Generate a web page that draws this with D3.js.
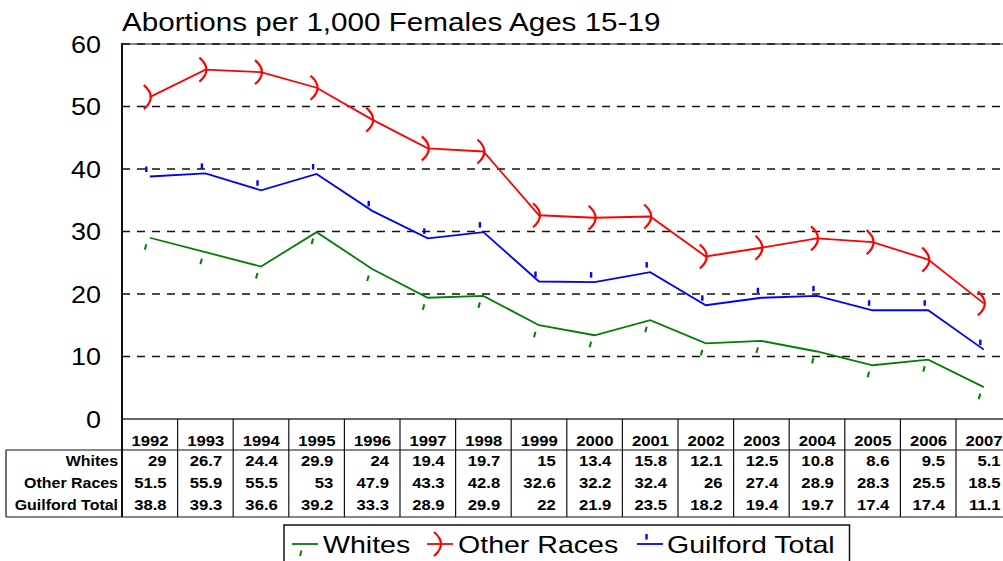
<!DOCTYPE html>
<html lang="en">
<head>
<meta charset="utf-8">
<script src="https://d3js.org/d3.v7.min.js"></script>
<style>
  body { margin: 0; background: #fff; }
  svg { display: block; font-family: Arial, "Liberation Sans", sans-serif; }
</style>
</head>
<body>
<svg></svg>
<script>
    // data
    const years = ["1992", "1993", "1994", "1995", "1996", "1997", "1998", "1999",
        "2000", "2001", "2002", "2003", "2004", "2005", "2006", "2007"];
    const whites = [29, 26.7, 24.4, 29.9, 24, 19.4, 19.7, 15, 13.4, 15.8, 12.1, 12.5, 10.8, 8.6, 9.5, 5.1];
    const otherRaces = [51.5, 55.9, 55.5, 53, 47.9, 43.3, 42.8, 32.6, 32.2, 32.4, 26, 27.4, 28.9, 28.3, 25.5, 18.5];
    const guilfordTotal = [38.8, 39.3, 36.6, 39.2, 33.3, 28.9, 29.9, 22, 21.9, 23.5, 18.2, 19.4, 19.7, 17.4, 17.4, 11.1];
    const yTicks = [0, 10, 20, 30, 40, 50, 60];
    const seriesNames = ["Whites", "Other Races", "Guilford Total"];

    const width = 1003, height = 561;
    const plotLeft = 122, plotTop = 44, plotBottom = 419, plotRight = 122 + 16 * 55.6;
    const tableTop = 419, headBottom = 450, tableBottom = 517;

    const series = [
        { name: seriesNames[0], values: whites, color: "#008000", marker: "tick" },
        { name: seriesNames[1], values: otherRaces, color: "#ff0000", marker: "arc" },
        { name: seriesNames[2], values: guilfordTotal, color: "#0000ff", marker: "dash" }
    ];

    let svg = d3.select("svg")
        .attr("width", width)
        .attr("height", height);

    svg.append("rect").attr("width", width).attr("height", height).attr("fill", "#fff");

    let x = d3.scaleBand().domain(years).range([plotLeft, plotRight]);
    let y = d3.scaleLinear().domain([0, 60]).range([plotBottom, plotTop]);
    const cx = (d) => x(d) + x.bandwidth() / 2;

    // text that is a little wider than the font (the original was stretched)
    function stretchText(g, tx, ty, str, size, sx, anchor, weight) {
        g.append("text")
            .attr("transform", `translate(${tx},${ty}) scale(${sx},1)`)
            .attr("text-anchor", anchor || "start")
            .style("font-size", size + "px")
            .style("font-weight", weight || "normal")
            .attr("fill", "#000")
            .text(str);
    }

    // title
    stretchText(svg, 122, 31, "Abortions per 1,000 Females Ages 15-19", 26, 1.14, "start");

    // plot border + gridlines
    svg.append("line")
        .attr("x1", plotLeft).attr("x2", plotRight)
        .attr("y1", plotTop).attr("y2", plotTop)
        .attr("stroke", "#888").attr("stroke-width", 2);

    svg.append("g")
        .selectAll("line")
        .data(yTicks)
        .enter()
        .append("line")
        .attr("x1", plotLeft).attr("x2", plotRight)
        .attr("y1", (d) => y(d)).attr("y2", (d) => y(d))
        .attr("stroke", "#111")
        .attr("stroke-width", 1.3)
        .attr("stroke-dasharray", "8,7");

    // y tick labels
    let yLab = svg.append("g");
    yTicks.forEach((t) => stretchText(yLab, 101, y(t) + 8.5, String(t), 23, 1.17, "end"));

    // data table
    let table = svg.append("g").attr("stroke", "#111").attr("stroke-width", 1.2);
    table.append("line").attr("x1", plotLeft - 1).attr("x2", plotRight).attr("y1", tableTop).attr("y2", tableTop)
        .attr("stroke", "#666").attr("stroke-width", 2);
    table.append("line").attr("x1", 6).attr("x2", plotRight).attr("y1", headBottom).attr("y2", headBottom);
    table.append("line").attr("x1", 6).attr("x2", plotRight).attr("y1", tableBottom).attr("y2", tableBottom);
    table.append("line").attr("x1", 6).attr("x2", 6).attr("y1", headBottom).attr("y2", tableBottom);
    table.selectAll("line.col")
        .data(years)
        .enter()
        .append("line")
        .attr("class", "col")
        .attr("x1", (d) => x(d) + x.bandwidth()).attr("x2", (d) => x(d) + x.bandwidth())
        .attr("y1", tableTop).attr("y2", tableBottom);

    // left axis line
    svg.append("line")
        .attr("x1", plotLeft).attr("x2", plotLeft)
        .attr("y1", plotTop - 1).attr("y2", tableBottom)
        .attr("stroke", "#111").attr("stroke-width", 2);

    let cells = svg.append("g");
    years.forEach((yr) => stretchText(cells, x(yr) + x.bandwidth() - 9, 446, yr, 14.5, 1.15, "end", "bold"));
    const rowBase = [465.5, 487.5, 510];
    series.forEach((s, i) => {
        stretchText(cells, 118, rowBase[i], s.name, 14.5, 1.1, "end", "bold");
        s.values.forEach((v, j) => {
            stretchText(cells, x(years[j]) + x.bandwidth() - 11, rowBase[i], String(v), 14.5, 1.15, "end", "bold");
        });
    });

    // marker shapes
    function drawMarker(g, type, px, py, color) {
        if (type == "tick") {
            g.append("line")
                .attr("x1", px - 5).attr("y1", py + 12)
                .attr("x2", px - 3.5).attr("y2", py + 6.5)
                .attr("stroke", color).attr("stroke-width", 2);
        } else if (type == "dash") {
            g.append("line")
                .attr("x1", px - 3.5).attr("y1", py - 10)
                .attr("x2", px - 3.5).attr("y2", py - 4.5)
                .attr("stroke", color).attr("stroke-width", 2.4);
        } else {
            g.append("path")
                .attr("d", `M${px - 6},${py - 12} Q${px + 8},${py} ${px - 6},${py + 12}`)
                .attr("fill", "none")
                .attr("stroke", color).attr("stroke-width", 2.2);
        }
    }

    let line = d3.line()
        .x((d) => cx(d.year))
        .y((d) => y(d.value));

    series.forEach((s) => {
        let pts = s.values.map((v, i) => ({ year: years[i], value: v }));
        let g = svg.append("g");
        g.append("path")
            .datum(pts)
            .attr("d", line)
            .attr("fill", "none")
            .attr("stroke", s.color)
            .attr("stroke-width", 1.8);
        pts.forEach((p) => drawMarker(g, s.marker, cx(p.year), y(p.value), s.color));
    });

    // legend
    let legend = svg.append("g");
    legend.append("rect")
        .attr("x", 284).attr("y", 525)
        .attr("width", 565.5).attr("height", 60)
        .attr("fill", "#fff")
        .attr("stroke", "#111").attr("stroke-width", 1.5);
    const legendX = [292, 427, 637];
    const textX = [323, 458, 667];
    series.forEach((s, i) => {
        legend.append("line")
            .attr("x1", legendX[i]).attr("x2", legendX[i] + 26)
            .attr("y1", 544).attr("y2", 544)
            .attr("stroke", s.color).attr("stroke-width", 1.8);
        drawMarker(legend, s.marker, legendX[i] + 13, 544, s.color);
        stretchText(legend, textX[i], 553, s.name, 24, 1.19, "start");
    });
</script>
</body>
</html>
